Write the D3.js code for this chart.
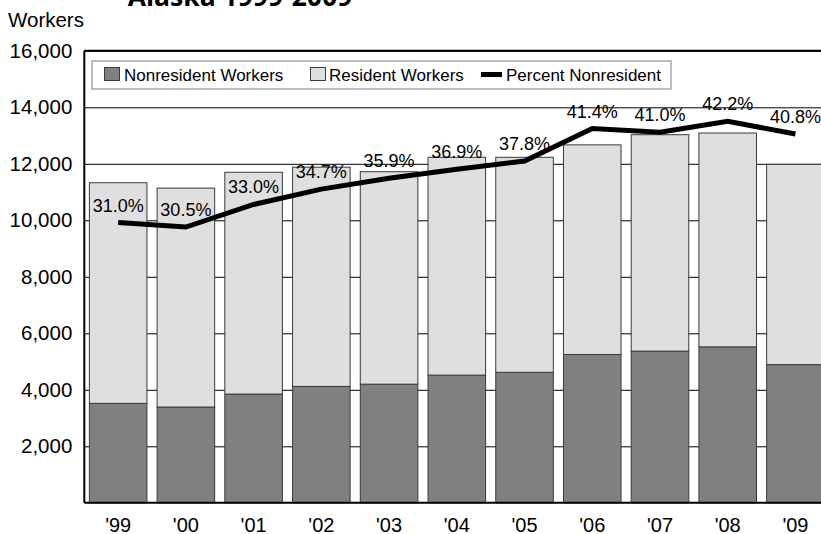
<!DOCTYPE html>
<html>
<head>
<meta charset="utf-8">
<script src="https://cdn.jsdelivr.net/npm/d3@7"></script>
<style>
  body { margin: 0; background: #fff; }
  svg text { font-family: "Liberation Sans", Arial, sans-serif; fill: #000; }
</style>
</head>
<body>
<svg id="chart" width="821" height="534"></svg>
<script>
const years = ["'99", "'00", "'01", "'02", "'03", "'04", "'05", "'06", "'07", "'08", "'09"];
const nonresident = [3520, 3390, 3850, 4120, 4200, 4520, 4620, 5250, 5370, 5520, 4890];
const resident = [7810, 7750, 7850, 7760, 7520, 7710, 7610, 7420, 7660, 7570, 7090];
const pctNonresident = [31.0, 30.5, 33.0, 34.7, 35.9, 36.9, 37.8, 41.4, 41.0, 42.2, 40.8];
const yTicks = [2000, 4000, 6000, 8000, 10000, 12000, 14000, 16000];
const legendLabels = ["Nonresident Workers", "Resident Workers", "Percent Nonresident"];

const svg = d3.select("svg#chart");
const margin = { top: 50.8, left: 84.3, bottom: 534 - 502.8 };
const chartWidth = 745;
const chartHeight = 502.8 - 50.8;

const rows = years.map((y, i) => ({ year: y, nonresident: nonresident[i], resident: resident[i], pct: pctNonresident[i] }));

const xScale = d3.scaleBand(years, [0, chartWidth]).paddingInner(0.15).paddingOuter(0.075);
const yScale = d3.scaleLinear([0, 16000], [chartHeight, 0]);
const pctScale = d3.scaleLinear([0, 50], [chartHeight, 0]);

// title, cut off at the top edge
svg.append("text")
  .attr("x", 240)
  .attr("y", 6)
  .attr("text-anchor", "middle")
  .style("font-family", "'Open Sans', sans-serif")
  .style("font-weight", "bold")
  .style("font-size", "26.5px")
  .text("Alaska 1999-2009");

svg.append("text")
  .attr("x", 8)
  .attr("y", 27)
  .style("font-size", "20.5px")
  .text("Workers");

let chartArea = svg.append("g").attr("transform", `translate(${margin.left},${margin.top})`);

// gridlines
let grid = chartArea.append("g")
  .call(d3.axisLeft(yScale).tickValues(yTicks).tickSize(-chartWidth).tickFormat(""));
grid.select(".domain").remove();
grid.selectAll("line").attr("stroke", "#000").attr("stroke-width", 1);

// stacked bars
const stacked = d3.stack().keys(["nonresident", "resident"])(rows);
const fills = ["#808080", "#dfdfdf"];
chartArea.selectAll("g.series")
  .data(stacked)
  .join("g")
  .attr("class", "series")
  .attr("fill", (d, i) => fills[i])
  .selectAll("rect")
  .data((d) => d)
  .join("rect")
  .attr("x", (d) => xScale(d.data.year))
  .attr("width", xScale.bandwidth())
  .attr("y", (d) => yScale(d[1]))
  .attr("height", (d) => yScale(d[0]) - yScale(d[1]))
  .attr("stroke", "#3a3a3a")
  .attr("stroke-width", 1);

// axes lines
chartArea.append("line")
  .attr("x1", 0).attr("x2", chartWidth).attr("y1", 0).attr("y2", 0)
  .attr("stroke", "#000").attr("stroke-width", 2);
chartArea.append("line")
  .attr("x1", 0).attr("x2", 0).attr("y1", 0).attr("y2", chartHeight)
  .attr("stroke", "#000").attr("stroke-width", 2);
chartArea.append("line")
  .attr("x1", 0).attr("x2", chartWidth).attr("y1", chartHeight).attr("y2", chartHeight)
  .attr("stroke", "#000").attr("stroke-width", 2);

let leftAxis = chartArea.append("g")
  .call(d3.axisLeft(yScale).tickValues(yTicks).tickSize(0).tickPadding(12).tickFormat(d3.format(",")));
leftAxis.select(".domain").remove();
leftAxis.selectAll("text").style("font-size", "20.5px").attr("fill", "#000")
  .style("font-family", "'Liberation Sans', Arial, sans-serif");

let bottomAxis = chartArea.append("g")
  .attr("transform", `translate(0, ${chartHeight})`)
  .call(d3.axisBottom(xScale).tickSize(0).tickPadding(15));
bottomAxis.select(".domain").remove();
bottomAxis.selectAll("text").style("font-size", "20px").attr("fill", "#000")
  .style("font-family", "'Liberation Sans', Arial, sans-serif");

// percent line
const line = d3.line((d) => xScale(d.year) + xScale.bandwidth() / 2, (d) => pctScale(d.pct));
chartArea.append("path")
  .datum(rows)
  .attr("d", line)
  .attr("fill", "none")
  .attr("stroke", "#000")
  .attr("stroke-width", 5);

chartArea.selectAll("text.pct")
  .data(rows)
  .join("text")
  .attr("class", "pct")
  .attr("x", (d) => xScale(d.year) + xScale.bandwidth() / 2)
  .attr("y", (d) => pctScale(d.pct) - 11)
  .attr("text-anchor", "middle")
  .style("font-size", "18px")
  .text((d) => d.pct.toFixed(1) + "%");

// legend
let legend = svg.append("g");
legend.append("rect")
  .attr("x", 92).attr("y", 61).attr("width", 579).attr("height", 28)
  .attr("fill", "#fff").attr("stroke", "#7a7a7a").attr("stroke-width", 1);
const swatchX = [104.5, 310.5];
swatchX.forEach((x, i) => {
  legend.append("rect")
    .attr("x", x).attr("y", 67.5).attr("width", 15).attr("height", 13)
    .attr("fill", fills[i]).attr("stroke", "#3a3a3a").attr("stroke-width", 1);
});
legend.append("line")
  .attr("x1", 481).attr("x2", 502).attr("y1", 74.5).attr("y2", 74.5)
  .attr("stroke", "#000").attr("stroke-width", 5);
const legendTextX = [124, 329, 506];
legend.selectAll("text")
  .data(legendLabels)
  .join("text")
  .attr("x", (d, i) => legendTextX[i])
  .attr("y", 80.5)
  .style("font-size", "17px")
  .text((d) => d);
</script>
</body>
</html>
